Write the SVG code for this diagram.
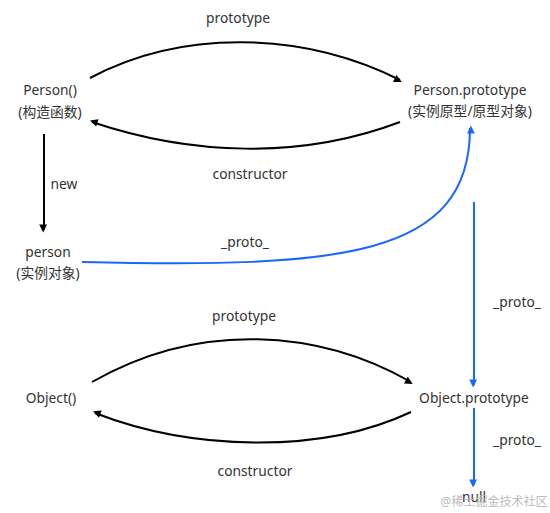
<svg xmlns="http://www.w3.org/2000/svg" width="550" height="513" viewBox="0 0 550 513">
<defs>
<style>
text{font-family:"Noto Sans","Noto Sans CJK SC",sans-serif;font-size:13.8px;fill:#333;text-anchor:middle}
.k{fill:none;stroke:#000;stroke-width:2}
.b{fill:none;stroke:#1a66ff;stroke-width:2}
.wm{font-size:12px;fill:#bbb}
</style>
<marker id="ak" viewBox="0 0 10 10" refX="9" refY="5" markerWidth="6" markerHeight="6" orient="auto" markerUnits="userSpaceOnUse" style="overflow:visible">
<path d="M0,0 L10,5 L0,10 z" fill="#000" transform="scale(1.3)" />
</marker>
<marker id="ab" viewBox="0 0 10 10" refX="9" refY="5" markerWidth="6" markerHeight="6" orient="auto" markerUnits="userSpaceOnUse" style="overflow:visible">
<path d="M0,0 L10,5 L0,10 z" fill="#1a66ff" transform="scale(1.3)" />
</marker>
</defs>
<rect width="550" height="513" fill="#fff"/>
<g id="connectors">
<path class="k" d="M90,78 C180,30 300,30 400,80" marker-end="url(#ak)"/>
<text x="238" y="23">prototype</text>
<path class="k" d="M400,122 C300,160 190,155 92,122" marker-end="url(#ak)"/>
<text x="250" y="179">constructor</text>
<path class="k" d="M44,134 L44,230" marker-end="url(#ak)"/>
<text x="64" y="189">new</text>
<path class="b" d="M82,262 C340,268 470,258 470,128" marker-end="url(#ab)"/>
<text x="245" y="247">_proto_</text>
<path class="b" d="M474,202 L474,385" marker-end="url(#ab)"/>
<text x="517" y="307">_proto_</text>
<path class="k" d="M92,382 C200,320 320,330 411,382" marker-end="url(#ak)"/>
<text x="244" y="321">prototype</text>
<path class="k" d="M411,412 C320,455 190,450 95,413" marker-end="url(#ak)"/>
<text x="255" y="476">constructor</text>
<path class="b" d="M474,408 L474,485" marker-end="url(#ab)"/>
<text x="517" y="445">_proto_</text>
</g>
<g id="person-ctor">
<text x="50" y="95">Person()</text>
<text x="50" y="117">(构造函数)</text>
</g>
<g id="person-prototype">
<text x="470" y="95">Person.prototype</text>
<text x="470" y="116">(实例原型/原型对象)</text>
</g>
<g id="person">
<text x="48" y="257">person</text>
<text x="48" y="278">(实例对象)</text>
</g>
<g id="object-ctor">
<text x="51" y="403">Object()</text>
</g>
<g id="object-prototype">
<text x="474" y="403">Object.prototype</text>
</g>
<g id="null">
<text x="474" y="502">null</text>
</g>
<text class="wm" x="494" y="506">@稀土掘金技术社区</text>
</svg>
